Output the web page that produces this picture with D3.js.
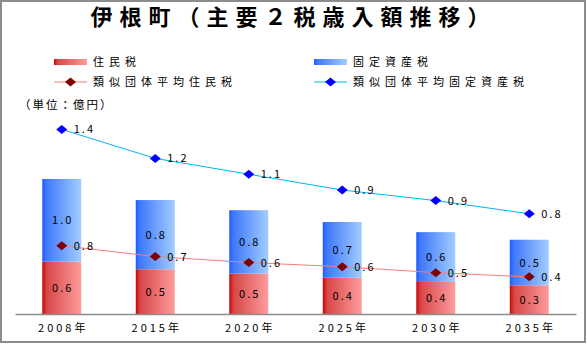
<!DOCTYPE html>
<html><head><meta charset="utf-8">
<script src="https://cdn.jsdelivr.net/npm/d3@7"></script>
<style>
body{margin:0;background:#fff;}
svg{display:block;font-family:"Noto Sans CJK JP","Noto Sans",sans-serif;}
</style></head>
<body><svg id="c" width="587" height="344"></svg>
<script>
const years = ["2008年","2015年","2020年","2025年","2030年","2035年"];
const residentTax = [0.62, 0.53, 0.48, 0.43, 0.38, 0.34];
const propertyTax = [0.98, 0.82, 0.75, 0.66, 0.59, 0.54];
const avgResidentTax = [0.81, 0.68, 0.61, 0.56, 0.49, 0.44];
const avgPropertyTax = [1.40, 1.18, 1.06, 0.94, 0.86, 0.76];
const seriesNames = ["住民税","固定資産税","類似団体平均住民税","類似団体平均固定資産税"];
const titleText = "伊根町（主要２税歳入額推移）";
const unitText = "（単位：億円）";

const svg = d3.select("#c");
const fmt = d3.format(".1f");

function centerOn(sel, cxFn, ls){
  sel.each(function(d,i){
    const t = d3.select(this);
    t.attr("text-anchor","start").attr("x",0);
    const w = this.getComputedTextLength();
    const c = typeof cxFn === "function" ? cxFn(d,i) : cxFn;
    t.attr("x", c - (w - ls)/2);
  });
}

// border
svg.append("rect").attr("x",1).attr("y",1).attr("width",584).attr("height",341)
  .attr("fill","#fff").attr("stroke","#8c8c8c").attr("stroke-width",2);

// gradients
const defs = svg.append("defs");
const gR = defs.append("linearGradient").attr("id","gr").attr("x1","0").attr("x2","1").attr("y1","0").attr("y2","0");
gR.append("stop").attr("offset","0").attr("stop-color","#c80808");
gR.append("stop").attr("offset","0.12").attr("stop-color","#d84848");
gR.append("stop").attr("offset","1").attr("stop-color","#fe9c9c");
const gB = defs.append("linearGradient").attr("id","gb").attr("x1","0").attr("x2","1").attr("y1","0").attr("y2","0");
gB.append("stop").attr("offset","0").attr("stop-color","#1d5cff");
gB.append("stop").attr("offset","0.1").attr("stop-color","#3f78fb");
gB.append("stop").attr("offset","1").attr("stop-color","#a2cdff");

// title
const title = svg.append("text").attr("y",25)
  .attr("font-size",22).attr("font-weight","bold").attr("letter-spacing",7)
  .attr("fill","#000").text(titleText);
centerOn(title, 290, 7);

// scales
const x = d3.scaleBand().domain(years).range([15,576]).paddingInner(0.583).paddingOuter(0.2915);
const y = d3.scaleLinear().domain([0,2.5]).range([314,103]);
const y2 = d3.scaleLinear().domain([0,1.6]).range([314,103]);

// legend
const leg = svg.append("g").attr("font-size",11).attr("letter-spacing",5);
const legItems = [
  {name:seriesNames[0], x:54, y:62, type:"bar", fill:"url(#gr)"},
  {name:seriesNames[1], x:314, y:62, type:"bar", fill:"url(#gb)"},
  {name:seriesNames[2], x:54, y:82, type:"line", stroke:"#ff7a7a", mk:"#800000"},
  {name:seriesNames[3], x:314, y:82, type:"line", stroke:"#00b4f0", mk:"#0000ff"}
];
const diamond = (cx,cy)=>`M${cx-5.5},${cy} L${cx},${cy-4.5} L${cx+5.5},${cy} L${cx},${cy+4.5} Z`;
legItems.forEach(d=>{
  if(d.type==="bar"){
    leg.append("rect").attr("x",d.x).attr("y",d.y-3).attr("width",33).attr("height",6).attr("fill",d.fill);
  } else {
    leg.append("line").attr("x1",d.x).attr("x2",d.x+33).attr("y1",d.y).attr("y2",d.y).attr("stroke",d.stroke).attr("stroke-width",1);
    leg.append("path").attr("d",diamond(d.x+16.5,d.y)).attr("fill",d.mk);
  }
  leg.append("text").attr("x",d.x+39).attr("y",d.y+4).attr("fill","#000").text(d.name);
});

// unit
svg.append("text").attr("x",19).attr("y",109).attr("font-size",11.5).attr("letter-spacing",2).attr("fill","#000").text(unitText);

// bars
const g = svg.append("g");
const data = years.map((yr,i)=>({yr, r:residentTax[i], p:propertyTax[i], ar:avgResidentTax[i], ap:avgPropertyTax[i]}));
g.selectAll("rect.r").data(data).join("rect").attr("class","r")
  .attr("x",d=>x(d.yr)).attr("width",x.bandwidth())
  .attr("y",d=>y(d.r)).attr("height",d=>y(0)-y(d.r)).attr("fill","url(#gr)");
g.selectAll("rect.p").data(data).join("rect").attr("class","p")
  .attr("x",d=>x(d.yr)).attr("width",x.bandwidth())
  .attr("y",d=>y(d.r+d.p)).attr("height",d=>y(d.r)-y(d.r+d.p)).attr("fill","url(#gb)");

// axis
const ax = svg.append("g").attr("transform","translate(0,314)")
  .call(d3.axisBottom(x).tickSize(0).tickPadding(10));
ax.select(".domain").attr("stroke","#8c8c8c").attr("stroke-width",1.3);
ax.selectAll(".tick text").attr("font-size",11).attr("letter-spacing",3).attr("fill","#000")
  .attr("font-family","'Noto Sans CJK JP','Noto Sans',sans-serif").attr("dx",1.5);

// bar labels
const cx = d=>x(d.yr)+x.bandwidth()/2;
const lbl = svg.append("g").attr("font-size",11).attr("letter-spacing",2).attr("fill","#000");
const tr = lbl.selectAll("text.r").data(data).join("text").attr("class","r")
  .attr("y",d=>(y(0)+y(d.r))/2+4).text(d=>fmt(d.r));
centerOn(tr, d=>cx(d), 2);
const tp = lbl.selectAll("text.p").data(data).join("text").attr("class","p")
  .attr("y",d=>(y(d.r)+y(d.r+d.p))/2+4).text(d=>fmt(d.p));
centerOn(tp, d=>cx(d), 2);

// lines
const lineR = d3.line().x(cx).y(d=>y(d.ar));
const lineP = d3.line().x(cx).y(d=>y2(d.ap));
svg.append("path").datum(data).attr("d",lineR).attr("fill","none").attr("stroke","#ff7a7a").attr("stroke-width",1);
svg.append("path").datum(data).attr("d",lineP).attr("fill","none").attr("stroke","#00b4f0").attr("stroke-width",1);
svg.selectAll("path.mr").data(data).join("path").attr("class","mr").attr("d",d=>diamond(cx(d),y(d.ar))).attr("fill","#800000");
svg.selectAll("path.mp").data(data).join("path").attr("class","mp").attr("d",d=>diamond(cx(d),y2(d.ap))).attr("fill","#0000ff");
const ll = svg.append("g").attr("font-size",11).attr("letter-spacing",2).attr("fill","#000");
ll.selectAll("text.r").data(data).join("text").attr("class","r")
  .attr("x",d=>cx(d)+12).attr("y",d=>y(d.ar)+4).text(d=>fmt(d.ar));
ll.selectAll("text.p").data(data).join("text").attr("class","p")
  .attr("x",d=>cx(d)+12).attr("y",d=>y2(d.ap)+4).text(d=>fmt(d.ap));
</script></body></html>
